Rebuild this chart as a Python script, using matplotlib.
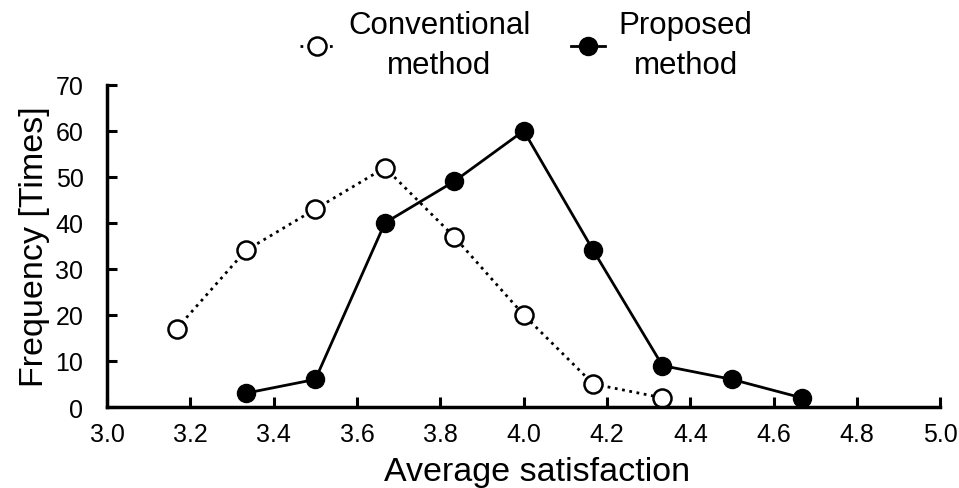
import matplotlib
matplotlib.use('Agg')
from matplotlib import pyplot as plt

plt.rcParams['font.family'] = ['Liberation Sans', 'DejaVu Sans']

conv_x = [3.167, 3.333, 3.5, 3.667, 3.833, 4.0, 4.167, 4.333]
conv_y = [17, 34, 43, 52, 37, 20, 5, 2]
prop_x = [3.333, 3.5, 3.667, 3.833, 4.0, 4.167, 4.333, 4.5, 4.667]
prop_y = [3, 6, 40, 49, 60, 34, 9, 6, 2]
xticks = [3.0, 3.2, 3.4, 3.6, 3.8, 4.0, 4.2, 4.4, 4.6, 4.8, 5.0]
yticks = [0, 10, 20, 30, 40, 50, 60, 70]

fig = plt.figure(figsize=(9.59, 4.89), dpi=100)
ax = fig.add_axes([0.1116, 0.1656, 0.869, 0.659])

ax.plot(conv_x, conv_y, ':', color='black', lw=2, marker='o', ms=13,
        mfc='white', mec='black', mew=1.8, label='Conventional\nmethod', clip_on=False)
ax.plot(prop_x, prop_y, '-', color='black', lw=2, marker='o', ms=13,
        mfc='black', mec='black', label='Proposed\nmethod', clip_on=False)

ax.set_xlim(3.0, 5.0)
ax.set_ylim(0, 70)
ax.set_xticks(xticks)
ax.set_xticklabels(['%.1f' % v for v in xticks])
ax.set_yticks(yticks)
ax.tick_params(direction='in', length=7.5, width=2.2, labelsize=18)
ax.tick_params(axis='x', pad=11)
ax.tick_params(axis='y', pad=17)
for s in ['top', 'right']:
    ax.spines[s].set_visible(False)
for s in ['left', 'bottom']:
    ax.spines[s].set_linewidth(2.5)

ax.set_xlabel('Average satisfaction', fontsize=24.5)
ax.xaxis.set_label_coords(0.516, -0.152)
ax.set_ylabel('Frequency [Times]', fontsize=24.5, labelpad=4)

leg = fig.legend(loc='upper center', bbox_to_anchor=(0.549, 1.035), ncol=2, frameon=False,
                 fontsize=22.5, handlelength=1.1, handletextpad=0.43, columnspacing=1.3,
                 labelspacing=0.2)
for t in leg.get_texts():
    t.set_multialignment('center')
    t.set_linespacing(1.45)

fig.savefig('out.png', dpi=100)
